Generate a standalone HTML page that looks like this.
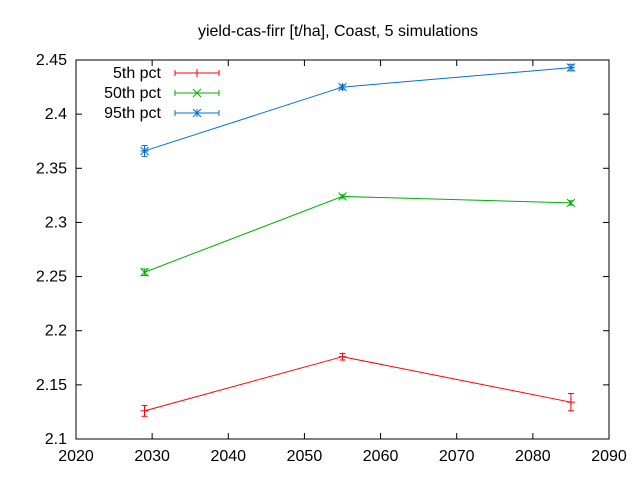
<!DOCTYPE html>
<html><head><meta charset="utf-8"><style>
body{margin:0;background:#fff}
svg{display:block;font-family:"Liberation Sans",sans-serif;font-size:16px}
</style></head><body>
<svg id="chart" width="640" height="480" viewBox="0 0 640 480">
<text x="338" y="36" text-anchor="middle">yield-cas-firr [t/ha], Coast, 5 simulations</text>
<g id="axes"></g>
<g id="series"></g>
<g id="legend"></g>
</svg>
<script>
const years = [2029, 2055, 2085];
const seriesNames = ["5th pct", "50th pct", "95th pct"];
const p5 = [2.126, 2.176, 2.134];
const p5err = [0.005, 0.003, 0.008];
const p50 = [2.254, 2.324, 2.318];
const p50err = [0.003, 0.0015, 0.002];
const p95 = [2.366, 2.425, 2.443];
const p95err = [0.005, 0.002, 0.003];
const xTicks = [2020, 2030, 2040, 2050, 2060, 2070, 2080, 2090];
const yTicks = [2.1, 2.15, 2.2, 2.25, 2.3, 2.35, 2.4, 2.45];
const yTickLabels = ["2.1", "2.15", "2.2", "2.25", "2.3", "2.35", "2.4", "2.45"];

const L=76,R=609,T=60,B=439;
const xs=v=>L+(v-2020)/70*(R-L);
const ys=v=>B-(v-2.1)/0.35*(B-T);
const NS="http://www.w3.org/2000/svg";
function mk(tag,attrs,parent){const e=document.createElementNS(NS,tag);for(const k in attrs)e.setAttribute(k,attrs[k]);parent.appendChild(e);return e;}
const axes=document.getElementById('axes');
let fr=mk('rect',{x:L,y:T,width:R-L,height:B-T,fill:'none',stroke:'#000','stroke-width':1},axes);


xTicks.forEach(t=>{const x=xs(t);
 mk('line',{x1:x,y1:B,x2:x,y2:B-6,stroke:'#000'},axes);
 mk('line',{x1:x,y1:T,x2:x,y2:T+6,stroke:'#000'},axes);
 const tx=mk('text',{x:x,y:B+22,'text-anchor':'middle'},axes);tx.textContent=t;
 
 
});
yTicks.forEach((t,i)=>{const y=ys(t);
 mk('line',{x1:L,y1:y,x2:L+6,y2:y,stroke:'#000'},axes);
 mk('line',{x1:R,y1:y,x2:R-6,y2:y,stroke:'#000'},axes);
 const tx=mk('text',{x:L-9,y:y+5,'text-anchor':'end'},axes);tx.textContent=yTickLabels[i];
 
 
});
const colors=['#ff0000','#00b000','#0070e0'];
const vals=[p5,p50,p95], errs=[p5err,p50err,p95err];
const sg=document.getElementById('series');
function marker(g,x,y,i,c){
 if(i===0){mk('line',{x1:x,y1:y-4,x2:x,y2:y+4,stroke:c},g);mk('line',{x1:x-4,y1:y,x2:x+4,y2:y,stroke:c},g);}
 if(i===1||i===2){mk('line',{x1:x-4,y1:y-4,x2:x+4,y2:y+4,stroke:c},g);mk('line',{x1:x-4,y1:y+4,x2:x+4,y2:y-4,stroke:c},g);}
 if(i===2){mk('line',{x1:x,y1:y-4,x2:x,y2:y+4,stroke:c},g);mk('line',{x1:x-4,y1:y,x2:x+4,y2:y,stroke:c},g);}
}
vals.forEach((v,i)=>{
 const g=mk('g',{},sg);
 
 
 mk('polyline',{points:v.map((d,j)=>xs(years[j])+','+ys(d)).join(' '),fill:'none',stroke:colors[i],'stroke-width':1},g);
 v.forEach((d,j)=>{const x=xs(years[j]),y1=ys(d+errs[i][j]),y2=ys(d-errs[i][j]);
  mk('line',{x1:x,y1:y1,x2:x,y2:y2,stroke:colors[i]},g);
  mk('line',{x1:x-3,y1:y1,x2:x+3,y2:y1,stroke:colors[i]},g);
  mk('line',{x1:x-3,y1:y2,x2:x+3,y2:y2,stroke:colors[i]},g);
  marker(g,x,ys(d),i,colors[i]);
 });
});
const lg=document.getElementById('legend');
seriesNames.forEach((n,i)=>{const y=73+i*20;
 const g=mk('g',{},lg);
 
 
 const t=mk('text',{x:161,y:y+5,'text-anchor':'end'},g);t.textContent=n;
 mk('line',{x1:175,y1:y,x2:219,y2:y,stroke:colors[i]},g);
 mk('line',{x1:175,y1:y-3,x2:175,y2:y+3,stroke:colors[i]},g);
 mk('line',{x1:219,y1:y-3,x2:219,y2:y+3,stroke:colors[i]},g);
 marker(g,197,y,i,colors[i]);
});
</script>
</body></html>
